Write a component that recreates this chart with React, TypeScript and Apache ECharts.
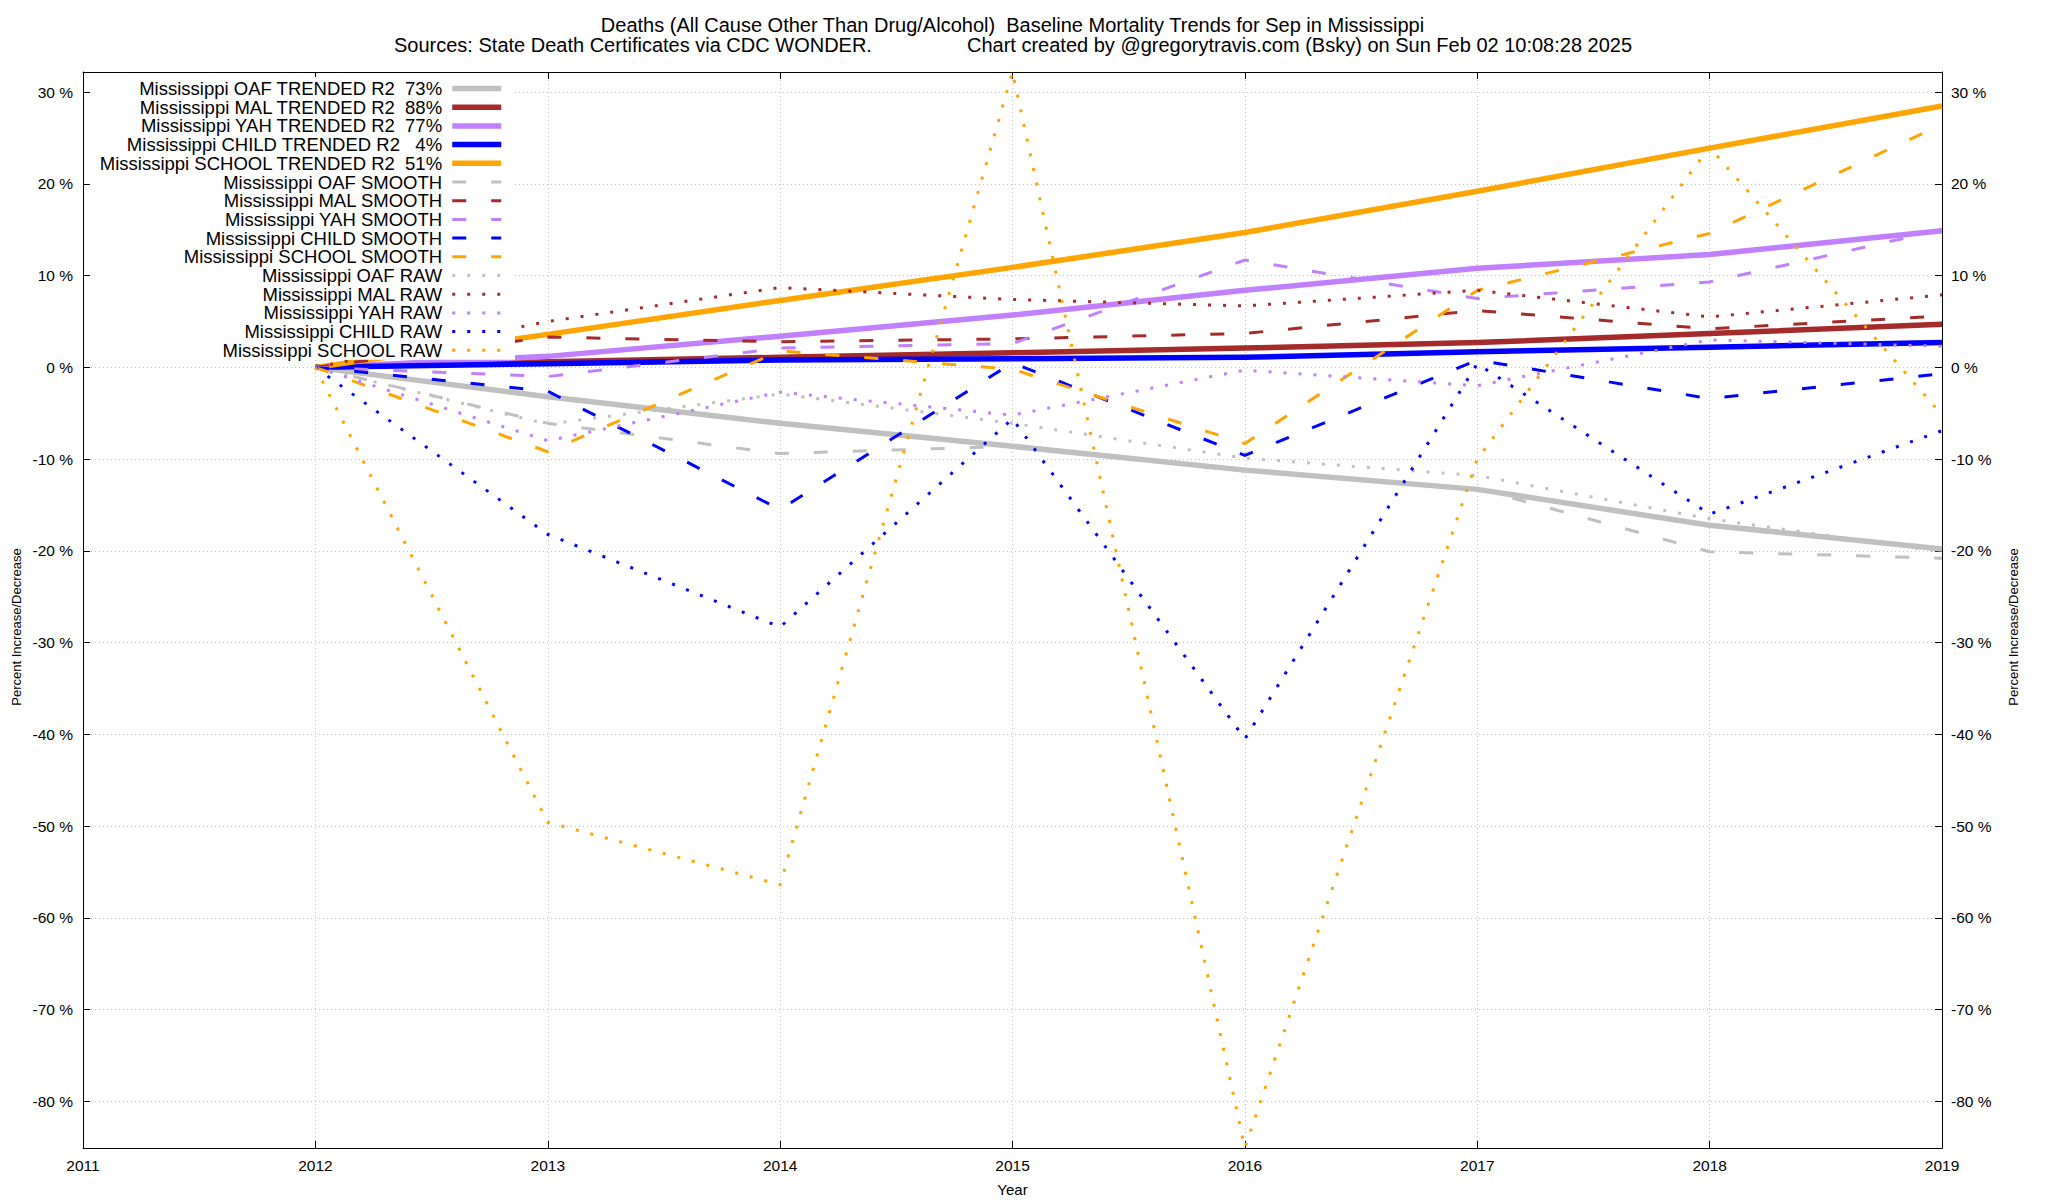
import React, { useEffect, useRef } from "react";
import * as echarts from "echarts";

// ---------- data ----------
const years = [2012, 2013, 2014, 2015, 2016, 2017, 2018, 2019];
const xTickYears = [2011, 2019];

const oafTrended = [0, -3.2, -6.1, -8.6, -11.2, -13.3, -17.2, -19.8];
const malTrended = [0, 0.6, 1.1, 1.6, 2.1, 2.7, 3.7, 4.7];
const yahTrended = [0, 1.2, 3.4, 5.7, 8.4, 10.8, 12.3, 14.9];
const childTrended = [0, 0.4, 0.8, 0.95, 1.1, 1.7, 2.2, 2.7];
const schoolTrended = [0, 3.6, 7.3, 10.9, 14.7, 19.2, 23.9, 28.5];

const oafSmooth = [0, -6.1, -9.4, -8.6, -11.3, -13.2, -20.1, -20.8];
const malSmooth = [0, 3.3, 2.8, 3.1, 3.7, 6.2, 4.2, 5.6];
const yahSmooth = [0, -1.0, 2.1, 2.6, 11.7, 7.5, 9.3, 15.0];
const childSmooth = [0, -2.6, -15.5, 0.5, -9.6, 0.8, -3.4, -0.7];
const schoolSmooth = [0, -9.2, 1.8, -0.2, -8.3, 8.4, 14.6, 26.5];

const oafRaw = [0, -6.2, -2.9, -6.1, -9.9, -11.8, -16.5, -20.1];
const malRaw = [0, 5.0, 8.7, 7.4, 6.7, 8.4, 5.5, 7.9];
const yahRaw = [0, -8.0, -2.7, -5.2, -0.3, -2.0, 3.0, 2.3];
const childRaw = [0, -18.2, -28.3, -5.6, -40.5, 0.4, -16.0, -6.9];
const schoolRaw = [0, -49.6, -56.4, 32.2, -85.1, -10.0, 24.0, -5.2];

const groupNames = ["OAF", "MAL", "YAH", "CHILD", "SCHOOL"];
const r2Values = ["73%", "88%", "77%", "4%", "51%"];
const groupColors = ["#c0c0c0", "#a52a2a", "#c080ff", "#0000ff", "#ffa500"];

const trendedData = [oafTrended, malTrended, yahTrended, childTrended, schoolTrended];
const smoothData = [oafSmooth, malSmooth, yahSmooth, childSmooth, schoolSmooth];
const rawData = [oafRaw, malRaw, yahRaw, childRaw, schoolRaw];

const titleLine1 = "Deaths (All Cause Other Than Drug/Alcohol)\u00A0 Baseline Mortality Trends for Sep in Mississippi";
const titleLine2a = "Sources: State Death Certificates via CDC WONDER.";
const titleLine2b = "Chart created by @gregorytravis.com (Bsky) on Sun Feb 02 10:08:28 2025";
const yAxisName = "Percent Increase/Decrease";
const xAxisName = "Year";

const FONT = "'Liberation Sans', Arial, Helvetica, sans-serif";
const NB = "\u00A0";

function textEl(text: string, x: number, y: number, size: number, align: string, rotation = 0) {
  return {
    type: "text",
    x,
    y,
    rotation,
    style: {
      text,
      fontSize: size,
      fontFamily: FONT,
      fill: "#000",
      align,
      textAlign: align,
      verticalAlign: "middle",
      textVerticalAlign: "middle",
    },
  };
}

function buildOption() {
  const all = [...trendedData, ...smoothData, ...rawData].flat();
  const yMin = Math.min(...all);
  const yMax = Math.max(...all);

  const series: any[] = [];
  const legendNames: string[] = [];

  const mk = (name: string, vals: number[], color: string, width: number, type: any) => {
    legendNames.push(name);
    series.push({
      type: "line",
      name,
      data: years.map((y, i) => [y, vals[i]]),
      symbol: "none",
      showSymbol: false,
      silent: true,
      xAxisIndex: 0,
      yAxisIndex: 0,
      lineStyle: { color, width, type, cap: "butt", join: "miter" },
      itemStyle: { color },
    });
  };

  groupNames.forEach((g, i) => {
    const pad = r2Values[i].length === 2 ? NB + NB + NB : NB + NB;
    mk(`Mississippi ${g} TRENDED R2${pad}${r2Values[i]}`, trendedData[i], groupColors[i], 5.5, "solid");
  });
  groupNames.forEach((g, i) => {
    mk(`Mississippi ${g} SMOOTH`, smoothData[i], groupColors[i], 3, [14, 25]);
  });
  groupNames.forEach((g, i) => {
    mk(`Mississippi ${g} RAW`, rawData[i], groupColors[i], 3, [3, 12]);
  });

  const axisLine = { show: true, onZero: false, lineStyle: { color: "#000", width: 1 } };
  const axisTick = { show: true, inside: true, length: 7, lineStyle: { color: "#000", width: 1 } };
  const gridLine = { show: true, lineStyle: { color: "#c4c4c4", width: 1, type: [1, 3] } };
  const tickFont = { fontSize: 15.5, fontFamily: FONT, color: "#000" };

  return {
    animation: false,
    backgroundColor: "#ffffff",
    textStyle: { fontFamily: FONT },
    grid: { left: 83, right: 106, top: 72, bottom: 52, containLabel: false, outerBoundsMode: "none" },
    graphic: [
      textEl(titleLine1, 1012.5, 25, 20, "center"),
      textEl(titleLine2a, 394, 45, 20, "left"),
      textEl(titleLine2b, 967, 45, 20, "left"),
      textEl(yAxisName, 16, 627, 13, "center", Math.PI / 2),
      textEl(yAxisName, 2013, 627, 13, "center", Math.PI / 2),
    ],
    legend: {
      data: legendNames,
      orient: "vertical",
      align: "right",
      right: 2048 - 515,
      top: 77,
      itemWidth: 49,
      itemHeight: 18.57,
      itemGap: -0.3,
      padding: [2, 11, 0, 8],
      backgroundColor: "#ffffff",
      selectedMode: false,
      formatter: (n: string) => n + NB,
      textStyle: { fontSize: 18.5, fontFamily: FONT, color: "#000", lineHeight: 15 },
      lineStyle: { width: "inherit", type: "inherit" },
      itemStyle: { color: "rgba(0,0,0,0)", borderWidth: 0, opacity: 0 },
      z: 10,
    },
    xAxis: [
      {
        type: "value",
        min: xTickYears[0],
        max: xTickYears[1],
        interval: 1,
        position: "bottom",
        axisLine,
        axisTick,
        axisLabel: { ...tickFont, margin: 9, formatter: (v: number) => String(v) },
        splitLine: gridLine,
        name: xAxisName,
        nameLocation: "middle",
        nameGap: 34,
        nameTextStyle: { fontSize: 15, fontFamily: FONT, color: "#000" },
      },
      {
        type: "value",
        min: xTickYears[0],
        max: xTickYears[1],
        interval: 1,
        position: "top",
        axisLine,
        axisTick,
        axisLabel: { show: false },
        splitLine: { show: false },
      },
    ],
    yAxis: [
      {
        type: "value",
        min: yMin,
        max: yMax,
        minInterval: 10,
        maxInterval: 10,
        splitNumber: 11,
        position: "left",
        axisLine,
        axisTick,
        axisLabel: {
          ...tickFont,
          margin: 10,
          showMinLabel: false,
          showMaxLabel: false,
          formatter: (v: number) => `${Math.round(v)} %`,
        },
        splitLine: gridLine,
      },
      {
        type: "value",
        min: yMin,
        max: yMax,
        minInterval: 10,
        maxInterval: 10,
        splitNumber: 11,
        position: "right",
        axisLine,
        axisTick,
        axisLabel: {
          ...tickFont,
          margin: 9,
          showMinLabel: false,
          showMaxLabel: false,
          formatter: (v: number) => `${Math.round(v)} %`,
        },
        splitLine: { show: false },
      },
    ],
    series,
  };
}

export default function App() {
  const ref = useRef<HTMLDivElement>(null);
  useEffect(() => {
    if (!ref.current) return;
    const chart = echarts.init(ref.current, undefined, { renderer: "svg" });
    chart.setOption(buildOption() as any);
    return () => chart.dispose();
  }, []);
  return (
    <div
      ref={ref}
      style={{ position: "fixed", left: 0, top: 0, width: 2048, height: 1200, background: "#fff" }}
    />
  );
}
